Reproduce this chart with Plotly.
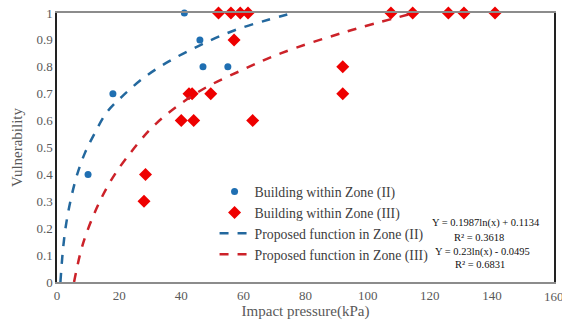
import plotly.graph_objects as go

# Observed points
zone2_x = [10, 18, 41, 46, 47, 55]
zone2_y = [0.4, 0.7, 1.0, 0.9, 0.8, 0.8]

zone3_x = [28, 28.5, 40, 44, 42.5, 43.5, 49.5, 57, 63, 52, 56, 59, 61.5,
           107.5, 114.5, 126, 131, 141, 92, 92]
zone3_y = [0.3, 0.4, 0.6, 0.6, 0.7, 0.7, 0.7, 0.9, 0.6, 1, 1, 1, 1,
           1, 1, 1, 1, 1, 0.8, 0.7]

# Proposed function curves
func2_x = [1.1, 2.0, 3.0, 4.5, 6.5, 9, 12, 16, 21, 28, 36, 46, 57, 68, 76]
func2_y = [0.0, 0.13, 0.22, 0.31, 0.40, 0.48, 0.55, 0.63, 0.69, 0.76, 0.82, 0.88, 0.935, 0.975, 1.0]

func3_x = [5.5, 8.3, 12.6, 17, 22.3, 32, 46, 60, 72, 93, 115]
func3_y = [0.0, 0.14, 0.27, 0.37, 0.46, 0.59, 0.71, 0.79, 0.85, 0.93, 1.0]

x_ticks = [0, 20, 40, 60, 80, 100, 120, 140, 160]
y_ticks = [0, 0.1, 0.2, 0.3, 0.4, 0.5, 0.6, 0.7, 0.8, 0.9, 1]
y_tick_text = ["0", "0.1", "0.2", "0.3", "0.4", "0.5", "0.6", "0.7", "0.8", "0.9", "1"]

equations = ["Y = 0.1987ln(x) + 0.1134", "R² = 0.3618",
             "Y = 0.23ln(x) - 0.0495", "R² = 0.6831"]

BLUE = "#1F6FB2"
BLUE_LINE = "#23689E"
RED = "#EE0000"
RED_LINE = "#CC2229"
FONT = "Liberation Serif"

fig = go.Figure()
fig.add_trace(go.Scatter(x=zone2_x, y=zone2_y, mode="markers",
                         name="Building within Zone (II)",
                         marker=dict(symbol="circle", size=7, color=BLUE),
                         cliponaxis=False))
fig.add_trace(go.Scatter(x=zone3_x, y=zone3_y, mode="markers",
                         name="Building within Zone (III)",
                         marker=dict(symbol="diamond", size=10, color=RED),
                         cliponaxis=False))
fig.add_trace(go.Scatter(x=func2_x, y=func2_y, mode="lines",
                         name="Proposed function in Zone (II)",
                         line=dict(color=BLUE_LINE, width=2.5, dash="dash", shape="spline")))
fig.add_trace(go.Scatter(x=func3_x, y=func3_y, mode="lines",
                         name="Proposed function in Zone (III)",
                         line=dict(color=RED_LINE, width=2.5, dash="dash", shape="spline")))

L, R, T, B = 57, 8, 13, 42
W, H = 562, 324
pw, ph = W - L - R, H - T - B
ann_pos = [(486, 223), (479, 237), (482, 252), (480, 264)]
for txt, (px, py) in zip(equations, ann_pos):
    fig.add_annotation(x=(px - L) / pw, y=(H - B - py) / ph, xref="paper", yref="paper",
                       xanchor="center", yanchor="middle",
                       text=txt, showarrow=False,
                       font=dict(family=FONT, size=10.5, color="#111111"))

# last x tick label sits at the plot edge and is cut by the page edge, as in the original
fig.add_annotation(x=x_ticks[-1], xref="x", y=0, yref="paper", yanchor="top", xanchor="center",
                   yshift=-5, text=str(x_ticks[-1]), showarrow=False,
                   font=dict(family=FONT, size=13, color="#595959"))

fig.update_layout(
    width=W, height=H,
    margin=dict(l=L, r=R, t=T, b=B, autoexpand=False),
    paper_bgcolor="white", plot_bgcolor="white",
    font=dict(family=FONT, color="#595959"),
    showlegend=True,
    legend=dict(x=0.317, y=0.394, xanchor="left", yanchor="top",
                bgcolor="rgba(0,0,0,0)", font=dict(family=FONT, size=13.8, color="#404040")),
    xaxis=dict(range=[0, 160], tickvals=x_ticks, showgrid=False, zeroline=False,
               showline=True, linecolor="#8C8C8C", linewidth=2, mirror=True,
               ticks="", automargin=False, tickfont=dict(size=13, color="#595959"),
               title=dict(text="Impact pressure(kPa)", font=dict(size=15, color="#595959"), standoff=2)),
    yaxis=dict(range=[0, 1], tickvals=y_ticks, ticktext=y_tick_text, showgrid=False,
               zeroline=False, showline=True, linecolor="#222222", linewidth=1.5, mirror=True,
               ticks="", automargin=False, tickfont=dict(size=13, color="#595959"),
               title=dict(text="Vulnerability", font=dict(size=15, color="#595959"), standoff=10)),
)

fig.write_html("out.html", config={"displayModeBar": False},
               post_script="document.body.style.margin='0';document.body.style.overflow='hidden';")
